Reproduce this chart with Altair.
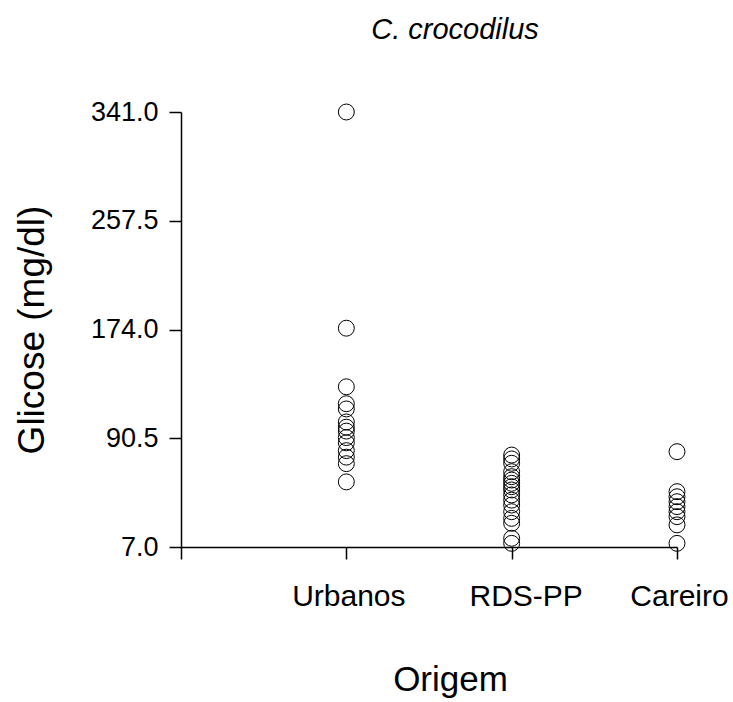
import altair as alt
import pandas as pd

categories = ["Urbanos", "RDS-PP", "Careiro"]
urbanos = [341, 175, 130, 117, 113, 103, 99, 96, 91, 87, 81, 76, 71, 57]
rds_pp = [77.6, 74.6, 71.3, 64.8, 61, 58.4, 55.9, 53.3, 50.8, 47, 43, 39.2, 34.1, 29, 25.2, 13.7, 9.8]
careiro = [80.2, 49.5, 45.6, 41.8, 38, 34.1, 30.3, 24, 9.8]
y_ticks = [7.0, 90.5, 174.0, 257.5, 341.0]

rows = []
for i, (cat, vals) in enumerate(zip(categories, [urbanos, rds_pp, careiro]), start=1):
    for v in vals:
        rows.append({"pos": i, "Origem": cat, "Glicose": v})
df = pd.DataFrame(rows)

label_expr = " : ".join(
    [f"datum.value == {i} ? '{c}'" for i, c in enumerate(categories, start=1)]
) + " : ''"

FONT = "Liberation Sans"

chart = (
    alt.Chart(df)
    .mark_point(shape="circle", filled=False, size=254, stroke="black",
                strokeWidth=1, opacity=1)
    .encode(
        x=alt.X(
            "pos:Q",
            scale=alt.Scale(domain=[0, 3], nice=False, zero=False),
            axis=alt.Axis(
                values=[0, 1, 2, 3],
                labelExpr=label_expr,
                labelFlush=False,
                labelOverlap=False,
                labelBound=False,
                labelOffset={"condition": {"test": "datum.value == 2", "value": 14},
                             "value": 2},
                title="Origem",
                grid=False,
                tickSize=12,
                tickWidth=1.5,
                domainWidth=1.5,
                domainColor="black",
                tickColor="black",
                labelColor="black",
                labelFont=FONT,
                labelFontSize=30,
                labelPadding=22,
                titleFont=FONT,
                titleFontSize=35,
                titleFontWeight="normal",
                titleColor="black",
                titleBaseline="alphabetic",
                titleX=269,
                titleY=143,
                titleAlign="center",
            ),
        ),
        y=alt.Y(
            "Glicose:Q",
            scale=alt.Scale(domain=[7, 341], nice=False, zero=False),
            axis=alt.Axis(
                values=y_ticks,
                format=".1f",
                title="Glicose (mg/dl)",
                grid=False,
                labelFlush=False,
                labelOverlap=False,
                tickSize=12,
                tickWidth=1.5,
                domainWidth=1.5,
                domainColor="black",
                tickColor="black",
                labelColor="black",
                labelFont=FONT,
                labelFontSize=27,
                labelPadding=11,
                titleFont=FONT,
                titleFontSize=37,
                titleFontWeight="normal",
                titleColor="black",
                titleBaseline="middle",
                titleX=-149,
                titleAngle=270,
            ),
        ),
    )
    .properties(
        width=496,
        height=435,
        autosize=alt.AutoSizeParams(type="none"),
        padding={"left": 181, "top": 112, "right": 56, "bottom": 155},
        title=alt.TitleParams(
            text="C. crocodilus",
            font=FONT,
            fontSize=29,
            fontStyle="italic",
            fontWeight="normal",
            color="black",
            anchor="middle",
            baseline="alphabetic",
            dx=26,
            offset=30,
        ),
        background="white",
    )
    .configure_view(stroke=None)
)

chart.save("out.html", embed_options={"renderer": "svg", "actions": False})
